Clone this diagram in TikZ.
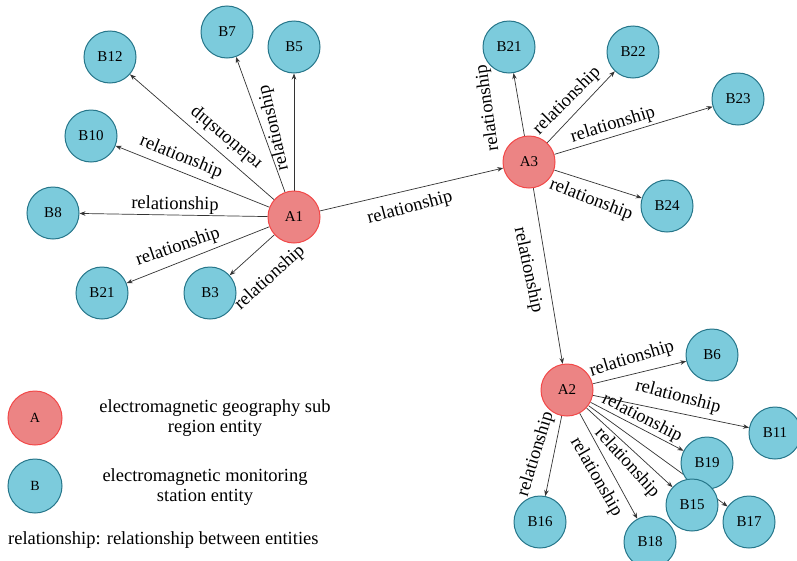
\documentclass[tikz,border=0pt]{standalone}
\usepackage{fontspec}
\setmainfont{Liberation Serif}
\usetikzlibrary{arrows.meta}
\definecolor{bfill}{RGB}{124,203,220}
\definecolor{bdraw}{RGB}{38,118,138}
\definecolor{afill}{RGB}{236,132,132}
\definecolor{adraw}{RGB}{242,72,72}
\pgfdeclarelayer{edges}
\pgfsetlayers{edges,main}
\begin{document}
\begin{tikzpicture}[x=1pt,y=-1pt,
 bnode/.style={circle,fill=bfill,draw=bdraw,line width=1pt,minimum size=52pt,inner sep=0pt,font=\fontsize{15}{17}\selectfont},
 anode/.style={circle,fill=afill,draw=adraw,line width=1pt,minimum size=52pt,inner sep=0pt,font=\fontsize{15}{17}\selectfont},
 rel/.style={-{Stealth[length=6pt,width=4.5pt]},draw=black!80,line width=0.7pt},
 lab/.style={inner sep=0pt,font=\fontsize{18.5}{20}\selectfont},
 legtext/.style={font=\fontsize{18.5}{20}\selectfont,align=center,inner sep=0pt}]
\useasboundingbox (0,0) rectangle (797,560);
\begin{pgfonlayer}{edges}
\fill[white] (0,0) rectangle (797,560);
\end{pgfonlayer}
\path
 (294,217) node[anode] (A1) {A1}
 (529,162) node[anode] (A3) {A3}
 (567,390) node[anode] (A2) {A2}
 (110,57) node[bnode] (B12) {B12}
 (227,32) node[bnode] (B7) {B7}
 (294,47) node[bnode] (B5) {B5}
 (91,136) node[bnode] (B10) {B10}
 (53,213) node[bnode] (B8) {B8}
 (102,293) node[bnode] (B21a) {B21}
 (210,293) node[bnode] (B3) {B3}
 (509,47) node[bnode] (B21b) {B21}
 (633,52) node[bnode] (B22) {B22}
 (738,99) node[bnode] (B23) {B23}
 (667,206) node[bnode] (B24) {B24}
 (712,355) node[bnode] (B6) {B6}
 (775,433) node[bnode] (B11) {B11}
 (540,522) node[bnode] (B16) {B16}
 (650,542) node[bnode] (B18) {B18}
 (749,522) node[bnode] (B17) {B17}
 (707,463) node[bnode] (B19) {B19}
 (692,505) node[bnode] (B15) {B15};
\begin{pgfonlayer}{edges}
\foreach \t in {B12,B7,B5,B10,B8,B21a,B3,A3}{\draw[rel] (A1) -- (\t);}
\foreach \t in {B21b,B22,B23,B24,A2}{\draw[rel] (A3) -- (\t);}
\foreach \t in {B6,B11,B19,B17,B15,B18,B16}{\draw[rel] (A2) -- (\t);}
\end{pgfonlayer}
% edge labels
\node[lab,rotate=140] (l1) at (226,138) {relationship};
\node[lab,rotate=103] (l2) at (274,128) {relationship};
\node[lab,rotate=-22] (l3) at (181,157) {relationship};
\node[lab,rotate=-1] (l4) at (175,205) {relationship};
\node[lab,rotate=19] (l5) at (178,247) {relationship};
\node[lab,rotate=42] (l6) at (270,278) {relationship};
\node[lab,rotate=15] (l7) at (410,208) {relationship};
\node[lab,rotate=98] (l8) at (488,108) {relationship};
\node[lab,rotate=45] (l9) at (567,101) {relationship};
\node[lab,rotate=17] (l10) at (613,125) {relationship};
\node[lab,rotate=-21] (l11) at (591,200) {relationship};
\node[lab,rotate=-78] (l12) at (528,270) {relationship};
\node[lab,rotate=17] (l13) at (632,359) {relationship};
\node[lab,rotate=-15] (l14) at (678,397) {relationship};
\node[lab,rotate=-27] (l15) at (642,418) {relationship};
\node[lab,rotate=-48] (l16) at (627,463) {relationship};
\node[lab,rotate=-60] (l17) at (596,477) {relationship};
\node[lab,rotate=73] (l18) at (536,454) {relationship};
% legend
\node[anode,minimum size=54pt,font=\fontsize{14}{16}\selectfont] (legA) at (35,418) {A};
\node[bnode,minimum size=54pt,font=\fontsize{14}{16}\selectfont] (legB) at (35,486) {B};
\node[legtext] (tA) at (215,418) {electromagnetic geography sub\\region entity};
\node[legtext] (tB) at (205,487) {electromagnetic monitoring\\station entity};
\node[legtext,anchor=west] (tR) at (8,540) {relationship: relationship between entities};
\end{tikzpicture}
\end{document}
